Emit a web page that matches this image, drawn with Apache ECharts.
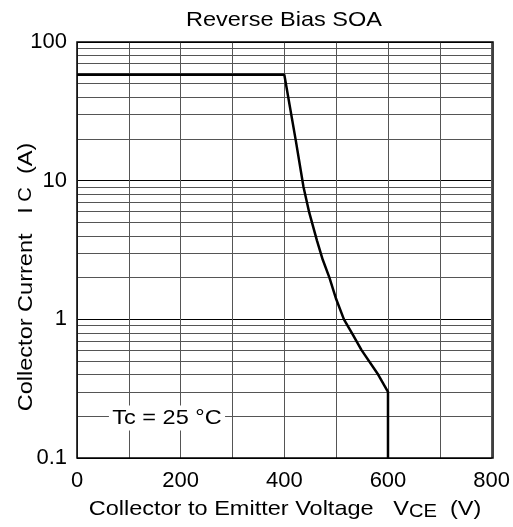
<!DOCTYPE html>
<html>
<head>
<meta charset="utf-8">
<script src="https://cdn.jsdelivr.net/npm/echarts@6/dist/echarts.min.js"></script>
<style>html,body{margin:0;padding:0;background:#fff;}#c{width:513px;height:527px;}</style>
</head>
<body>
<div id="c"></div>
<script>
var voltage = [0, 400, 422, 437, 448, 463, 474, 487, 500, 515, 531, 549, 581, 600, 600];
var current = [58, 58, 19.6, 9.0, 5.9, 3.7, 2.7, 2.0, 1.4, 1.0, 0.79, 0.6, 0.4, 0.3, 0.1];
var yMajorTicks = [0.1, 1, 10, 100];
var yMinorGrid = [0.2,0.3,0.4,0.5,0.6,0.7,0.8,0.9, 2,3,4,5,6,7,8,9, 20,30,40,50,60,70,80,90];
var xTicks = [0, 200, 400, 600, 800];

var F = 'Liberation Sans, Arial, sans-serif';
var SX = 1.12;
var chart = echarts.init(document.getElementById('c'), null, {renderer: 'canvas'});
var pts = voltage.map(function (v, i) { return [v, current[i]]; });

chart.setOption({
  animation: false,
  backgroundColor: '#fff',
  grid: {left: 77, right: 20, top: 42, bottom: 69},
  xAxis: {
    type: 'value', min: 0, max: 800, interval: 100,
    axisLine: {show: false}, axisTick: {show: false},
    axisLabel: {
      fontFamily: F, fontSize: 22, color: '#000', margin: 12,
      formatter: function (v) { return xTicks.indexOf(v) >= 0 ? String(v) : ''; }
    },
    splitLine: {show: true, lineStyle: {color: '#555', width: 1}}
  },
  yAxis: {
    type: 'log', logBase: 10, min: 0.1, max: 100,
    axisLine: {show: false}, axisTick: {show: false},
    axisLabel: {
      fontFamily: F, fontSize: 22, color: '#000', margin: 10,
      formatter: function (v) {
        var r = yMajorTicks.filter(function (t) { return Math.abs(t - v) / t < 1e-6; });
        return r.length ? String(r[0]) : '';
      }
    },
    splitLine: {show: true, lineStyle: {color: '#000', width: 1}}
  },
  graphic: [
    {
      type: 'text', x: 284, y: 20, scaleX: SX,
      style: {
        text: 'Reverse Bias SOA', align: 'center', verticalAlign: 'middle',
        fontFamily: F, fontSize: 21, fill: '#000'
      }
    },
    {
      type: 'text', x: 26, y: 277, rotation: Math.PI / 2, scaleX: SX,
      style: {
        text: '{n|Collector Current   I}{s| C}{n|  (A)}',
        align: 'center', verticalAlign: 'middle',
        rich: {
          n: {fontFamily: F, fontSize: 21, fill: '#000'},
          s: {fontFamily: F, fontSize: 18, fill: '#000'}
        }
      }
    },
    {
      type: 'text', x: 285, y: 509, scaleX: SX,
      style: {
        text: '{n|Collector to Emitter Voltage   V}{s|CE}{n|  (V)}',
        align: 'center', verticalAlign: 'middle',
        rich: {
          n: {fontFamily: F, fontSize: 21, fill: '#000'},
          s: {fontFamily: F, fontSize: 18, fill: '#000', padding: [6, 0, 0, 0]}
        }
      }
    },
    {
      type: 'rect', shape: {x: 77, y: 42, width: 416, height: 416},
      style: {fill: 'none', stroke: '#000', lineWidth: 1.5}, z: 100
    },
    {
      type: 'text', x: 167, y: 418, z: 50, scaleX: SX,
      style: {
        text: 'Tc = 25 °C', align: 'center', verticalAlign: 'middle',
        fontFamily: F, fontSize: 21, fill: '#000',
        backgroundColor: '#fff', padding: [2, 3, 2, 3]
      }
    }
  ],
  series: [
    {
      type: 'line', data: [], silent: true,
      markLine: {
        silent: true, symbol: 'none', label: {show: false},
        lineStyle: {color: '#555', width: 1, type: 'solid'},
        data: yMinorGrid.map(function (v) { return {yAxis: v}; })
      }
    },
    {
      type: 'line', data: pts, showSymbol: false, symbol: 'none',
      lineStyle: {color: '#000', width: 2.5}, z: 10
    }
  ]
});
</script>
</body>
</html>
